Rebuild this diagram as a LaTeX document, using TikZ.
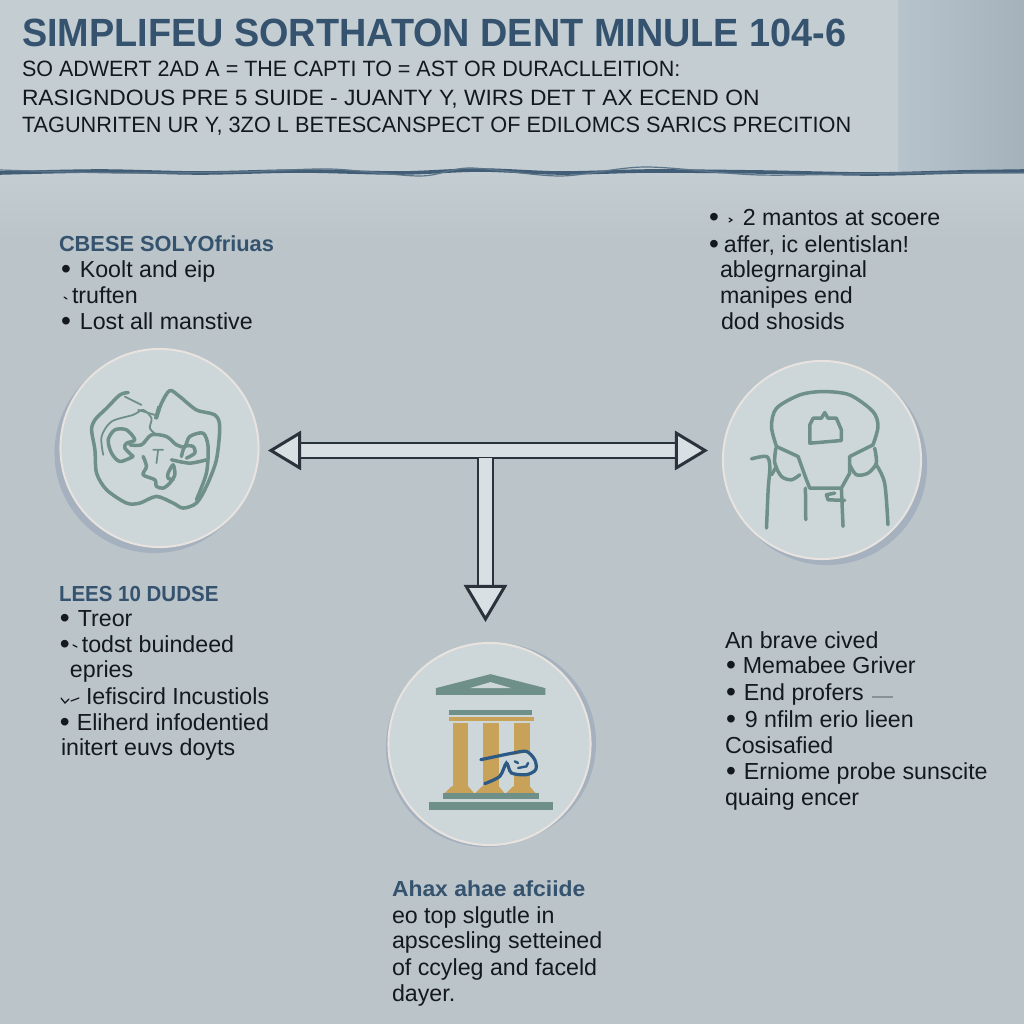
\documentclass[tikz,border=0pt]{standalone}
\usepackage{fontspec}
\setmainfont{Liberation Sans}
\usetikzlibrary{arrows.meta}

\definecolor{pagebg}{HTML}{BAC4C9}
\definecolor{headbg}{HTML}{C3CDD2}
\definecolor{panelbg}{HTML}{ABB9C3}
\definecolor{discbg}{HTML}{CDD7DA}
\definecolor{discrim}{HTML}{E8E3DF}
\definecolor{discshade}{HTML}{A5B1BE}
\definecolor{iconline}{HTML}{6F9089}
\definecolor{gold}{HTML}{C9A25A}
\definecolor{inkblue}{HTML}{35536E}
\definecolor{squiggle}{HTML}{2C5A84}
\definecolor{ink}{HTML}{14191D}
\definecolor{armfill}{HTML}{D9E0E4}
\definecolor{armedge}{HTML}{2A333B}

\newcommand{\itm}[1]{\smash{\raisebox{-0.5pt}{\fontsize{8}{8}\selectfont •}}\hspace{#1cm}}

\begin{document}
\begin{tikzpicture}[
                x=0.01cm,y=-0.01cm,
                every node/.append style={inner sep=0pt,outer sep=0pt},
                titleline/.style={anchor=base west,text=inkblue,font=\fontsize{11.2}{12}\selectfont\bfseries,xscale=0.96,transform shape},
                headline/.style={anchor=base west,text=ink,font=\fontsize{6.3}{7}\selectfont},
                headingline/.style={anchor=base west,text=inkblue,font=\fontsize{6.2}{7}\selectfont\bfseries},
                bodyline/.style={anchor=base west,text=ink,font=\fontsize{6.6}{7}\selectfont},
                squeeze/.style={xscale=#1,transform shape},
                disc/.style={circle,fill=discbg,draw=discrim,line width=0.02cm,minimum size=1.98cm},
                discshadow/.style={circle,fill=discshade,minimum size=2cm},
                sketch/.style={draw=iconline,line width=0.035cm,line cap=round,line join=round},
                thinsketch/.style={sketch,line width=0.018cm},
                pipe/.style={draw=armedge,line width=0.022cm,double=armfill,double distance=0.13cm},
                speck/.style={draw=ink,line width=0.012cm,line cap=round}
            ]
                \useasboundingbox (0,0) rectangle (1024,1024);
                \fill[pagebg] (0,0) rectangle (1024,1024);
                \fill[headbg] (0,0) rectangle (898,172);
                \shade[left color=panelbg!85!white,right color=panelbg!96!black] (898,0) rectangle (1024,172);
                \shade[top color=headbg,bottom color=pagebg] (0,172) rectangle (1024,240);

                % torn rule under the header
                \draw[inkblue!90!pagebg,line width=0.036cm] plot[smooth] coordinates {(0,173) (100,171) (200,173) (300,171) (400,173) (480,170) (560,173) (650,171) (760,172) (870,174) (960,172) (1024,171)};
                \draw[inkblue!70!pagebg,line width=0.012cm] plot[smooth] coordinates {(0,170) (120,173) (240,172) (330,169) (420,176) (470,168) (560,176) (645,167) (760,175) (900,173) (1024,173)};

                % header text
                \node[titleline] (title) at (22,47) {SIMPLIFEU SORTHATON DENT MINULE 104-6};
                \node[headline,squeeze=0.97] (head1) at (22,77) {SO ADWERT 2AD A = THE CAPTI TO = AST OR DURACLLEITION:};
                \node[headline,squeeze=1.03] (head2) at (22,105) {RASIGNDOUS PRE 5 SUIDE - JUANTY Y, WIRS DET T AX ECEND ON};
                \node[headline,squeeze=0.98] (head3) at (22,133) {TAGUNRITEN UR Y, 3ZO L BETESCANSPECT OF EDILOMCS SARICS PRECITION};

                % discs
                \node[discshadow] (leftshade) at (154.5,453) {};
                \node[disc] (leftdisc) at (159.5,448) {};
                \node[discshadow] (rightshade) at (827,465) {};
                \node[disc] (rightdisc) at (822,460) {};
                \node[discshadow] (lowshade1) at (496,743) {};
                \node[discshadow] (lowshade2) at (486,747) {};
                \node[disc,minimum size=2.02cm] (lowdisc) at (489.5,744) {};

                % arrows
                \coordinate (lefttip) at (268,450.5);
                \coordinate (righttip) at (708,450.5);
                \coordinate (hub) at (485.5,457.7);
                \coordinate (lowtip) at (485.5,622);
                \draw[pipe,{Triangle[length=0.33cm,width=0.39cm,fill=armfill,line width=0.03cm]}-{Triangle[length=0.33cm,width=0.39cm,fill=armfill,line width=0.03cm]}] (lefttip) -- (righttip);
                \draw[pipe,-{Triangle[length=0.37cm,width=0.43cm,fill=armfill,line width=0.03cm]}] (hub) -- (lowtip);

                % left icon
                \begin{scope}[shift={(40,340)},x=0.003333cm,y=-0.003333cm]
                    \draw[sketch] plot[smooth] coordinates {(265,158) (240,165) (200,205) (165,240) (155,270) (165,330) (170,400) (200,450) (260,490) (300,490) (350,470) (400,490) (430,505) (470,490) (500,440) (530,360) (540,260) (525,225) (470,210) (420,170) (390,152) (365,190) (350,235)};
                    \draw[thinsketch] plot[smooth] coordinates {(190,345) (185,290) (215,245) (280,225) (310,210) (335,235) (330,265) (350,285)};
                    \draw[sketch] plot[smooth] coordinates {(280,350) (240,365) (215,340) (205,300) (225,270) (260,270) (285,300) (260,310) (255,325) (280,350)};
                    \draw[sketch] plot[smooth] coordinates {(270,315) (305,315) (335,285) (380,290) (410,315) (435,320) (450,290) (490,280) (505,320) (500,400) (470,480)};
                    \draw[sketch] plot[smooth] coordinates {(425,350) (435,320) (460,320) (465,340) (440,355)};
                    \draw[sketch] plot[smooth] coordinates {(395,360) (450,370) (500,360)};
                    \draw[thinsketch] (340,330) -- (370,330) (355,330) -- (350,370);
                    \draw[sketch] plot[smooth] coordinates {(310,350) (320,380) (310,405) (345,420) (350,440) (370,445) (390,430) (405,405) (400,375) (385,400) (385,415) (400,420)};
                    \draw[thinsketch] (255,170) -- (305,195) (295,210) -- (345,225) (355,200) -- (345,235);
                \end{scope}

                % right icon
                \begin{scope}[shift={(660,350)},x=0.003333cm,y=-0.003333cm]
                    \draw[sketch] plot[smooth] coordinates {(350,290) (335,230) (350,175) (420,135) (490,125) (570,135) (640,185) (655,230) (640,285)};
                    \draw[sketch] (350,290) -- (415,320) -- (440,390) -- (450,415) -- (545,415) -- (570,370) -- (570,320) -- (640,285);
                    \draw[sketch] (450,280) -- (450,225) -- (460,205) -- (485,205) -- (495,188) -- (505,205) -- (530,205) -- (545,240) -- (545,272) -- cycle;
                    \draw[sketch] plot[smooth] coordinates {(348,295) (345,340) (365,380) (395,390) (420,375)};
                    \draw[sketch] plot[smooth] coordinates {(570,345) (590,375) (625,370) (650,340) (645,295)};
                    \draw[sketch] plot[smooth] coordinates {(275,327) (320,320) (330,350) (325,420) (320,535)};
                    \draw[sketch] (335,375) -- (350,350);
                    \draw[sketch] plot[smooth] coordinates {(650,345) (675,400) (685,525)};
                    \draw[sketch] (437,415) -- (438,510) (545,415) -- (550,530);
                    \draw[sketch] (525,430) -- (500,435) -- (505,450) -- (555,452);
                \end{scope}

                % temple icon
                \begin{scope}[shift={(370,560)},x=0.003333cm,y=-0.003333cm]
                    \fill[iconline] (198,385) -- (362,343) -- (527,385) -- (527,405) -- (198,405) -- cycle;
                    \fill[discbg] (300,385) -- (362,367) -- (425,385) -- cycle;
                    \fill[iconline] (238,452) rectangle (488,466);
                    \fill[gold] (238,473) rectangle (493,483);
                    \foreach \colx in {248,340,433} {
                        \fill[gold] (\colx,490) rectangle (\colx+47,685);
                        \fill[gold] (\colx-23,700) -- (\colx-3,680) -- (\colx+47,680) -- (\colx+64,700) -- cycle;
                    }
                    \fill[iconline] (220,700) rectangle (507,718);
                    \fill[iconline] (178,728) rectangle (550,750);
                    \fill[discbg] (405,592) -- (470,578) -- (495,600) -- (495,632) -- (470,645) -- (425,640) -- cycle;
                    \draw[draw=squiggle,line width=0.032cm,line cap=round] plot[smooth] coordinates {(333,600) (380,590) (430,580) (470,575) (495,600) (498,630) (470,645) (425,640) (410,610) (390,650) (345,672)};
                    \draw[draw=squiggle,line width=0.024cm,line cap=round] (435,605) -- (445,610) (445,625) -- (470,620) -- (475,610);
                \end{scope}

                % upper left block
                \node[headingline] (uplhead) at (59,251) {CBESE SOLYOfriuas};
                \node[bodyline] (upl1) at (61,277) {\itm{0.09}Koolt and eip};
                \node[bodyline] (upl2) at (72,303) {truften};
                \node[bodyline] (upl3) at (61,329) {\itm{0.09}Lost all manstive};
                \draw[speck] (64,297) -- (67,299);

                % upper right block
                \node[bodyline] (upr1) at (709,225) {\itm{0.24}2 mantos at scoere};
                \node[bodyline] (upr2) at (709,252) {\itm{0.05}affer, ic elentislan!};
                \node[bodyline] (upr3) at (720,277) {ablegrnarginal};
                \node[bodyline] (upr4) at (720,303) {manipes end};
                \node[bodyline] (upr5) at (721,329) {dod shosids};
                \draw[speck] (729,218) -- (732,220) -- (729,222);

                % lower left block
                \node[headingline,squeeze=0.94] (lwlhead) at (59,601) {LEES 10 DUDSE};
                \node[bodyline] (lwl1) at (60,626) {\itm{0.08}Treor};
                \node[bodyline] (lwl2) at (60,652) {\itm{0.12}todst buindeed};
                \node[bodyline] (lwl3) at (70,677) {epries};
                \node[bodyline] (lwl4) at (86,704) {Iefiscird Incustiols};
                \node[bodyline] (lwl5) at (60,730) {\itm{0.07}Eliherd infodentied};
                \node[bodyline] (lwl6) at (61,755) {initert euvs doyts};
                \draw[speck] (73,645) -- (77,647);
                \draw[speck] (61,698) -- (65,703) -- (69,699) (71,701) -- (79,698);

                % lower right block
                \node[bodyline] (lwr1) at (725,648) {An brave cived};
                \node[bodyline] (lwr2) at (726,673) {\itm{0.07}Memabee Griver};
                \node[bodyline] (lwr3) at (726,700) {\itm{0.08}End profers};
                \node[bodyline] (lwr4) at (726,727) {\itm{0.09}9 nfilm erio lieen};
                \node[bodyline] (lwr5) at (725,753) {Cosisafied};
                \node[bodyline] (lwr6) at (726,779) {\itm{0.08}Erniome probe sunscite};
                \node[bodyline] (lwr7) at (725,805) {quaing encer};
                \draw[ink!30!pagebg,line width=0.012cm] (872,697) -- (893,697);

                % bottom block
                \node[headingline,squeeze=1.05] (lowhead) at (392,896) {Ahax ahae afciide};
                \node[bodyline] (low1) at (392,923) {eo top slgutle in};
                \node[bodyline] (low2) at (392,948) {apscesling setteined};
                \node[bodyline] (low3) at (392,975) {of ccyleg and faceld};
                \node[bodyline] (low4) at (392,1001) {dayer.};
            \end{tikzpicture}
\end{document}
